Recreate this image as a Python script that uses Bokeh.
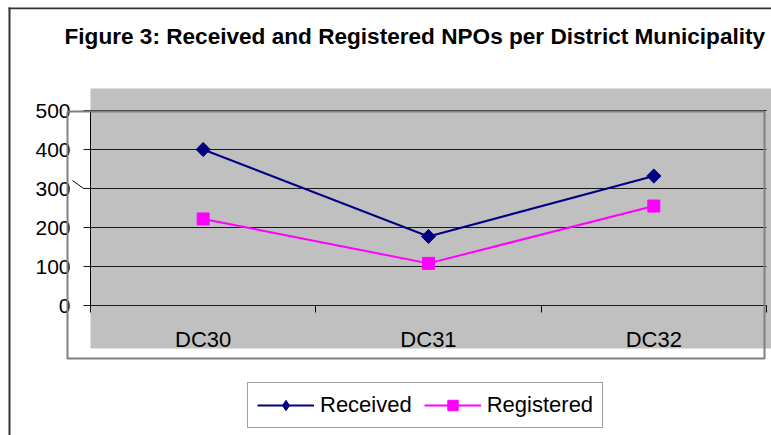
from bokeh.plotting import figure
from bokeh.models import (LinearAxis, FixedTicker, Range1d, Legend, LegendItem,
                          BoxAnnotation, PolyAnnotation, Label)
from bokeh.embed import file_html
from bokeh.resources import INLINE
import numpy as np

title = "Figure 3: Received and Registered NPOs per District Municipality"
categories = ["DC30", "DC31", "DC32"]
received = [400, 177, 332]
registered = [222, 108, 255]
y_ticks = [0, 100, 200, 300, 400, 500]
series_names = ["Received", "Registered"]

FONT = "Liberation Sans"
W, H = 771, 435
n = len(categories)
xs = [i + 0.5 for i in range(n)]

# layout calibration: page pixel -> data coordinate
X0, XW = 90.0, 225.33      # pixel of category axis start, pixels per category
Y0, YS = 305.0, 0.39       # pixel of value 0, pixels per unit


def dx(px):
    return (px - X0) / XW


def dy(py):
    return (Y0 - py) / YS


p = figure(width=W, height=H, output_backend="svg", toolbar_location=None, title=None,
           x_range=Range1d(dx(0), dx(W)), y_range=Range1d(dy(H), dy(0)),
           x_axis_location=None, y_axis_location=None,
           min_border_left=0, min_border_right=0, min_border_top=0, min_border_bottom=0)
p.background_fill_color = "white"
p.border_fill_color = "white"
p.outline_line_color = None
p.xgrid.visible = False
p.ygrid.visible = False

# grey plot area
p.add_layout(BoxAnnotation(left=0, right=dx(W), top=dy(88), bottom=dy(348),
                           fill_color="#C0C0C0", fill_alpha=1, line_color=None, level="image"))

# value axis; long inward ticks act as the horizontal gridlines
yaxis = LinearAxis(ticker=FixedTicker(ticks=y_ticks), bounds=(0, 500), fixed_location=0,
                   axis_line_color="black", major_tick_line_color="#1a1a1a",
                   major_tick_out=7, major_tick_in=int(round(n * XW)), minor_tick_line_color=None,
                   major_label_text_font=FONT, major_label_text_font_size="21px",
                   major_label_text_color="black", major_label_standoff=13, level="underlay")
p.add_layout(yaxis, "left")

xaxis_ticks = LinearAxis(ticker=FixedTicker(ticks=list(range(n + 1))), fixed_location=0, bounds=(0, n),
                         axis_line_color="black", major_tick_line_color="black",
                         major_tick_out=7, major_tick_in=0, minor_tick_line_color=None,
                         major_label_text_color=None, major_label_text_font_size="1px", level="underlay")
p.add_layout(xaxis_ticks, "below")

xaxis_labels = LinearAxis(ticker=FixedTicker(ticks=xs), fixed_location=0, bounds=(0, n),
                          axis_line_color=None, major_tick_line_color=None, minor_tick_line_color=None,
                          major_label_overrides={x: c for x, c in zip(xs, categories)},
                          major_label_text_font=FONT, major_label_text_font_size="22px",
                          major_label_text_color="black", major_label_standoff=15, level="underlay")
p.add_layout(xaxis_labels, "below")

r1l = p.line(xs, received, line_color="#000080", line_width=2)
# diamond marker (used as legend key; covered by the wider rotated square in the plot)
r1key = p.scatter(xs, received, marker="diamond", size=13,
                  fill_color="#000080", line_color="#000080")
r1m = p.scatter(xs, received, marker="square", angle=np.pi / 4, size=10,
                fill_color="#000080", line_color="#000080")
r2l = p.line(xs, registered, line_color="#FF00FF", line_width=2)
r2m = p.scatter(xs, registered, marker="square", size=12,
                fill_color="#FF00FF", line_color="#FF00FF")

# plot-area border, stray tick, chart frame
p.add_layout(BoxAnnotation(left=dx(67), right=dx(764), top=dy(111), bottom=dy(358),
                           fill_color=None, fill_alpha=0, line_color="#808080", line_alpha=1,
                           line_width=2))
p.add_layout(PolyAnnotation(xs=[dx(72), dx(83)], ys=[dy(180), dy(188)],
                            fill_color=None, fill_alpha=0, line_color="black", line_alpha=1,
                            line_width=1))
p.add_layout(BoxAnnotation(left=dx(8), right=dx(10), top=dy(7), bottom=dy(H + 2),
                           fill_color="#333333", fill_alpha=1, line_color=None))
p.add_layout(BoxAnnotation(left=dx(8), right=dx(W + 2), top=dy(7), bottom=dy(8.7),
                           fill_color="#333333", fill_alpha=1, line_color=None))

p.add_layout(Label(x=dx(64), y=dy(36), text=title, text_font=FONT, text_font_size="22.6px",
                   text_font_style="bold", text_color="black",
                   text_align="left", text_baseline="middle"))

legend = Legend(items=[LegendItem(label=series_names[0], renderers=[r1l, r1key]),
                       LegendItem(label=series_names[1], renderers=[r2l, r2m])],
                orientation="horizontal", location=(247, H - 428),
                glyph_width=57, glyph_height=26, label_height=26, label_standoff=6,
                spacing=12, padding=9, margin=0,
                label_text_font=FONT, label_text_font_size="22px", label_text_color="black",
                border_line_color="#404040", border_line_width=1,
                background_fill_color="white", background_fill_alpha=1)
p.add_layout(legend, "center")

open("out.html", "w").write(file_html(p, INLINE))
